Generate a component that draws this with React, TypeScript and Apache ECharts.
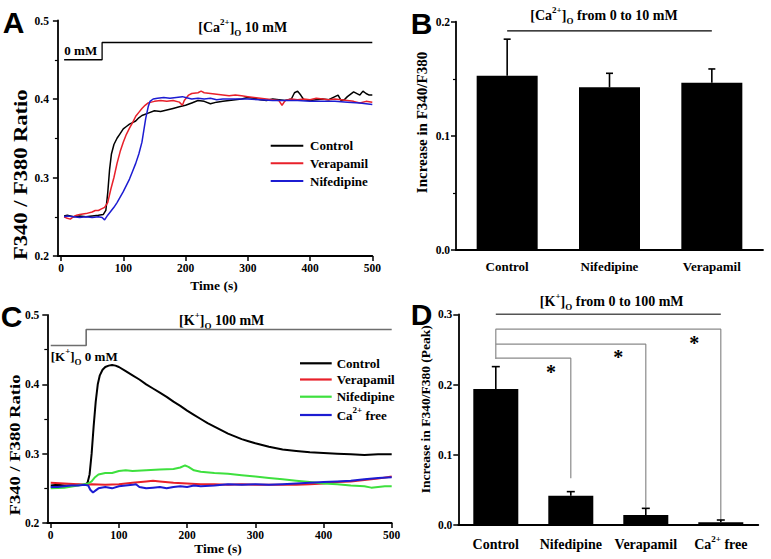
import React, { useEffect, useRef } from 'react';
import * as echarts from 'echarts';

const FONT = '"Liberation Serif", "Times New Roman", serif';
const SANS = '"Liberation Sans", Arial, sans-serif';

// ---------- Panel A data (time s, F340/F380) ----------
const timeTicks = [0, 100, 200, 300, 400, 500];
const aControl = [[5,0.251],[10,0.252],[20,0.250],[30,0.251],[40,0.250],[50,0.251],[60,0.252],[68,0.253],[72,0.258],[75,0.28],[78,0.31],[81,0.33],[85,0.342],[90,0.35],[95,0.356],[100,0.362],[105,0.365],[110,0.368],[115,0.37],[120,0.372],[125,0.376],[130,0.379],[140,0.382],[150,0.385],[160,0.384],[170,0.386],[180,0.388],[190,0.39],[200,0.392],[210,0.395],[220,0.398],[230,0.397],[240,0.394],[250,0.396],[260,0.397],[270,0.398],[280,0.399],[290,0.4],[300,0.402],[310,0.401],[320,0.399],[330,0.398],[340,0.4],[350,0.399],[360,0.398],[370,0.4],[375,0.408],[380,0.41],[385,0.405],[390,0.399],[400,0.398],[410,0.399],[420,0.4],[430,0.399],[440,0.403],[445,0.405],[450,0.398],[455,0.399],[460,0.403],[470,0.409],[480,0.405],[485,0.41],[490,0.407],[495,0.405],[500,0.405]];
const aVerapamil = [[5,0.25],[10,0.248],[15,0.247],[20,0.25],[25,0.252],[30,0.253],[40,0.254],[50,0.256],[55,0.258],[60,0.258],[65,0.26],[70,0.262],[75,0.268],[80,0.285],[85,0.3],[90,0.318],[95,0.333],[100,0.345],[105,0.355],[110,0.363],[115,0.37],[120,0.378],[125,0.383],[130,0.388],[135,0.392],[140,0.395],[145,0.396],[150,0.397],[160,0.398],[170,0.397],[180,0.398],[190,0.396],[195,0.392],[198,0.398],[205,0.405],[210,0.407],[220,0.408],[225,0.41],[230,0.408],[240,0.407],[250,0.406],[260,0.405],[270,0.404],[280,0.405],[290,0.404],[300,0.403],[310,0.402],[320,0.401],[330,0.4],[340,0.399],[350,0.398],[355,0.392],[360,0.398],[370,0.4],[380,0.399],[390,0.4],[400,0.399],[410,0.401],[420,0.4],[430,0.399],[440,0.4],[450,0.399],[460,0.398],[470,0.397],[480,0.395],[490,0.397],[500,0.396]];
const aNifedipine = [[5,0.25],[10,0.251],[20,0.25],[30,0.249],[40,0.25],[50,0.249],[60,0.25],[66,0.249],[70,0.246],[75,0.252],[80,0.257],[85,0.262],[90,0.268],[95,0.275],[100,0.282],[105,0.29],[110,0.298],[115,0.308],[120,0.318],[125,0.33],[130,0.345],[133,0.36],[136,0.375],[140,0.39],[143,0.397],[148,0.4],[155,0.401],[165,0.402],[175,0.401],[185,0.402],[195,0.403],[200,0.402],[210,0.4],[220,0.401],[230,0.4],[240,0.401],[250,0.399],[260,0.4],[280,0.4],[300,0.4],[320,0.399],[340,0.398],[360,0.398],[380,0.398],[400,0.397],[420,0.397],[440,0.397],[460,0.396],[480,0.395],[500,0.393]];
const aStep = [[5,0.45],[66,0.45],[66,0.472],[500,0.472]];

// ---------- Panel B data ----------
const catsB = ['Control', 'Nifedipine', 'Verapamil'];
const meanB = [0.1527, 0.1425, 0.1466];
const errB = [0.032, 0.0123, 0.012];
const lineB = [[0, 0.192], [2, 0.192]];

// ---------- Panel C data ----------
const cControl = [[0,0.254],[10,0.255],[20,0.254],[30,0.254],[40,0.255],[50,0.255],[54,0.258],[57,0.27],[60,0.3],[63,0.34],[66,0.375],[69,0.4],[72,0.413],[76,0.421],[80,0.425],[85,0.427],[90,0.428],[95,0.427],[100,0.425],[110,0.419],[120,0.413],[130,0.407],[140,0.4],[150,0.394],[160,0.388],[170,0.382],[180,0.375],[190,0.369],[200,0.362],[210,0.356],[220,0.35],[230,0.344],[240,0.339],[250,0.334],[260,0.329],[270,0.325],[280,0.321],[290,0.318],[300,0.315],[320,0.31],[340,0.306],[360,0.304],[380,0.302],[400,0.301],[420,0.3],[440,0.299],[460,0.298],[480,0.299],[500,0.299]];
const cVerapamil = [[0,0.258],[20,0.257],[40,0.256],[50,0.255],[60,0.256],[80,0.255],[100,0.256],[120,0.258],[140,0.26],[150,0.261],[160,0.26],[180,0.258],[200,0.257],[220,0.256],[240,0.256],[260,0.255],[280,0.256],[300,0.255],[320,0.255],[340,0.255],[360,0.255],[380,0.256],[400,0.257],[420,0.259],[440,0.26],[460,0.262],[480,0.264],[500,0.267]];
const cNifedipine = [[0,0.25],[20,0.251],[40,0.254],[50,0.256],[55,0.257],[60,0.26],[65,0.266],[70,0.27],[75,0.271],[80,0.272],[90,0.272],[100,0.275],[110,0.276],[120,0.275],[140,0.276],[160,0.277],[180,0.278],[190,0.28],[197,0.283],[202,0.281],[210,0.276],[220,0.274],[240,0.272],[260,0.271],[280,0.269],[300,0.267],[320,0.265],[340,0.263],[360,0.261],[380,0.259],[400,0.257],[420,0.256],[440,0.254],[460,0.253],[470,0.251],[480,0.252],[490,0.253],[500,0.253]];
const cCaFree = [[0,0.252],[10,0.252],[20,0.253],[30,0.254],[40,0.254],[50,0.255],[55,0.254],[58,0.248],[62,0.244],[66,0.247],[70,0.25],[80,0.252],[90,0.25],[100,0.253],[110,0.254],[120,0.255],[125,0.256],[130,0.252],[140,0.25],[150,0.251],[160,0.252],[170,0.25],[180,0.252],[190,0.253],[200,0.252],[210,0.254],[220,0.253],[240,0.254],[260,0.256],[280,0.255],[300,0.256],[320,0.255],[340,0.256],[360,0.257],[380,0.258],[400,0.259],[420,0.26],[440,0.261],[460,0.263],[480,0.265],[500,0.266]];
const cStep = [[0,0.456],[52,0.456],[52,0.479],[500,0.479]];

// ---------- Panel D data ----------
const catsD = ['Control', 'Nifedipine', 'Verapamil', 'Ca2+ free'];
const meanD = [0.1937, 0.0418, 0.0142, 0.0038];
const errD = [0.0318, 0.0057, 0.0095, 0.0033];
const lineD = [[0, 0.3], [3, 0.3]];
const bracket1 = [[0, 0.2365], [0, 0.2788], [3, 0.2788], [3, 0.0047]];
const bracket2 = [[0, 0.2574], [2, 0.2574], [2, 0.0246]];
const bracket3 = [[0, 0.2375], [1, 0.2375], [1, 0.0665]];

const RED = '#e8202a';
const BLUE = '#1c1cd2';
const GREEN = '#3ee03e';

const richBase = (size: number) => ({
  n: { fontSize: size, fontWeight: 'bold', fontFamily: FONT, lineHeight: 20, color: '#000', verticalAlign: 'middle' },
  sup: { fontSize: 9, fontWeight: 'bold', fontFamily: FONT, lineHeight: 9, color: '#000', verticalAlign: 'top' },
  sub: { fontSize: 9, fontWeight: 'bold', fontFamily: FONT, lineHeight: 9, color: '#000', verticalAlign: 'bottom' },
});

function txt(text: string, x: number, y: number, size: number, align = 'left', extra: any = {}) {
  return {
    type: 'text', x, y, silent: true,
    style: {
      text, fill: '#000', fontSize: size, fontWeight: 'bold', fontFamily: FONT,
      align, textAlign: align, verticalAlign: 'middle', textVerticalAlign: 'middle', ...extra,
    },
  };
}
function rich(text: string, x: number, y: number, size: number, align = 'center') {
  return {
    type: 'text', x, y, silent: true,
    style: {
      text, rich: richBase(size), fill: '#000', fontSize: size, fontWeight: 'bold', fontFamily: FONT,
      align, textAlign: align, verticalAlign: 'middle', textVerticalAlign: 'middle',
    },
  };
}
function vlabel(text: string, x: number, y: number, size: number, sx = 1) {
  return {
    type: 'text', x, y, rotation: Math.PI / 2, scaleX: sx, silent: true,
    style: {
      text, fill: '#000', fontSize: size, fontWeight: 'bold', fontFamily: FONT,
      align: 'center', textAlign: 'center', verticalAlign: 'middle', textVerticalAlign: 'middle',
    },
  };
}
function seg(x1: number, y1: number, x2: number, y2: number, color: string, w = 2) {
  return { type: 'line', silent: true, shape: { x1, y1, x2, y2 }, style: { stroke: color, lineWidth: w } };
}

const axisLineStyle = { show: true, onZero: false, lineStyle: { color: '#000', width: 1.8 } };
const tickStyle = { show: true, length: 5, lineStyle: { color: '#000', width: 1.5 } };
const labelStyle = (size: number, margin: number) => ({
  color: '#000', fontFamily: FONT, fontWeight: 'bold', fontSize: size, margin,
});

function errSeries(xi: number, yi: number, cats: string[], means: number[], errs: number[], cap: number) {
  return {
    type: 'custom', xAxisIndex: xi, yAxisIndex: yi, z: 5, silent: true,
    data: cats.map((_, i) => [i, means[i], errs[i]]),
    renderItem: (params: any, api: any) => {
      const x = api.value(0);
      const m = api.value(1);
      const e = api.value(2);
      const b = api.coord([x, m]);
      const t = api.coord([x, m + e]);
      return {
        type: 'group',
        children: [
          { type: 'line', shape: { x1: b[0], y1: b[1], x2: t[0], y2: t[1] }, style: { stroke: '#000', lineWidth: 1.6 } },
          { type: 'line', shape: { x1: t[0] - cap, y1: t[1], x2: t[0] + cap, y2: t[1] }, style: { stroke: '#000', lineWidth: 1.6 } },
        ],
      };
    },
  };
}

function lineSeries(xi: number, data: number[][], color: string, w: number, name?: string) {
  return {
    type: 'line', name, xAxisIndex: xi, yAxisIndex: xi, data, symbol: 'none', showSymbol: false,
    clip: false, silent: true, lineStyle: { color, width: w }, itemStyle: { color },
  };
}

export default function App() {
  const ref = useRef<HTMLDivElement>(null);
  useEffect(() => {
    if (!ref.current) return;
    const chart = echarts.init(ref.current, null, { renderer: 'svg' });
    const catFmt = (v: string) => (v === 'Ca2+ free' ? '{n|Ca}{sup|2+}{n| free}' : '{n|' + v + '}');
    const option: any = {
      animation: false,
      backgroundColor: '#fff',
      grid: [
        { left: 57.9, top: 20.5, width: 314.4, height: 235.5 },
        { left: 456, top: 21.7, width: 307, height: 228.3 },
        { left: 47.3, top: 315, width: 344.4, height: 208 },
        { left: 458.3, top: 314.3, width: 300, height: 210.7 },
      ],
      xAxis: [
        {
          gridIndex: 0, type: 'value', min: -5, max: 500,
          axisLine: axisLineStyle, axisTick: { ...tickStyle, customValues: timeTicks },
          axisLabel: { ...labelStyle(11.5, 6), customValues: timeTicks }, splitLine: { show: false },
        },
        {
          gridIndex: 1, type: 'category', data: catsB,
          axisLine: axisLineStyle, axisTick: { show: false },
          axisLabel: { ...labelStyle(13, 10), interval: 0 }, splitLine: { show: false },
        },
        {
          gridIndex: 2, type: 'value', min: -5, max: 500,
          axisLine: axisLineStyle, axisTick: { ...tickStyle, customValues: timeTicks },
          axisLabel: { ...labelStyle(11.5, 6), customValues: timeTicks }, splitLine: { show: false },
        },
        {
          gridIndex: 3, type: 'category', data: catsD,
          axisLine: axisLineStyle, axisTick: { show: false },
          axisLabel: { ...labelStyle(14, 9), interval: 0, hideOverlap: false, formatter: catFmt, rich: richBase(14) }, splitLine: { show: false },
        },
      ],
      yAxis: [
        {
          gridIndex: 0, type: 'value', min: 0.2, max: 0.5, interval: 0.1,
          axisLine: axisLineStyle, axisTick: tickStyle,
          minorTick: { show: true, splitNumber: 2, length: 3, lineStyle: { color: '#000', width: 1.2 } },
          axisLabel: { ...labelStyle(11.5, 9), formatter: (v: number) => v.toFixed(1) }, splitLine: { show: false },
        },
        {
          gridIndex: 1, type: 'value', min: 0, max: 0.2, interval: 0.1,
          axisLine: axisLineStyle, axisTick: tickStyle,
          minorTick: { show: true, splitNumber: 2, length: 3, lineStyle: { color: '#000', width: 1.2 } },
          axisLabel: { ...labelStyle(11.5, 6), formatter: (v: number) => v.toFixed(1) }, splitLine: { show: false },
        },
        {
          gridIndex: 2, type: 'value', min: 0.2, max: 0.5, interval: 0.1,
          axisLine: axisLineStyle, axisTick: tickStyle,
          minorTick: { show: true, splitNumber: 2, length: 3, lineStyle: { color: '#000', width: 1.2 } },
          axisLabel: { ...labelStyle(11.5, 8), formatter: (v: number) => v.toFixed(1) }, splitLine: { show: false },
        },
        {
          gridIndex: 3, type: 'value', min: 0, max: 0.3, interval: 0.1,
          axisLine: axisLineStyle, axisTick: tickStyle,
          axisLabel: { ...labelStyle(11.5, 6), formatter: (v: number) => v.toFixed(1) }, splitLine: { show: false },
        },
      ],
      series: [
        // Panel A
        lineSeries(0, aStep, '#000', 1.3),
        lineSeries(0, aControl, '#000', 1.5, 'Control'),
        lineSeries(0, aVerapamil, RED, 1.5, 'Verapamil'),
        lineSeries(0, aNifedipine, BLUE, 1.5, 'Nifedipine'),
        // Panel B
        { type: 'bar', xAxisIndex: 1, yAxisIndex: 1, data: meanB, barWidth: 61, itemStyle: { color: '#000' }, silent: true },
        errSeries(1, 1, catsB, meanB, errB, 3.5),
        lineSeries(1, lineB, '#000', 1.3),
        // Panel C
        lineSeries(2, cStep, '#6e6e6e', 1.6),
        lineSeries(2, cControl, '#000', 2, 'Control'),
        lineSeries(2, cVerapamil, RED, 2, 'Verapamil'),
        lineSeries(2, cNifedipine, GREEN, 2, 'Nifedipine'),
        lineSeries(2, cCaFree, BLUE, 2, 'Ca2+ free'),
        // Panel D
        { type: 'bar', xAxisIndex: 3, yAxisIndex: 3, data: meanD, barWidth: 45, itemStyle: { color: '#000' }, silent: true },
        errSeries(3, 3, catsD, meanD, errD, 4),
        lineSeries(3, lineD, '#555', 1.5),
        lineSeries(3, bracket1, '#8a8a8a', 1.2),
        lineSeries(3, bracket2, '#8a8a8a', 1.2),
        lineSeries(3, bracket3, '#8a8a8a', 1.2),
      ],
      graphic: [
        // panel letters
        { type: 'text', x: 13.5, y: 22.5, style: { text: 'A', fill: '#000', fontSize: 30, fontWeight: 'bold', fontFamily: SANS, align: 'center', verticalAlign: 'middle' } },
        { type: 'text', x: 421.7, y: 23.3, style: { text: 'B', fill: '#000', fontSize: 30, fontWeight: 'bold', fontFamily: SANS, align: 'center', verticalAlign: 'middle' } },
        { type: 'text', x: 11.7, y: 316, style: { text: 'C', fill: '#000', fontSize: 30, fontWeight: 'bold', fontFamily: SANS, align: 'center', verticalAlign: 'middle' } },
        { type: 'text', x: 421.7, y: 314, style: { text: 'D', fill: '#000', fontSize: 30, fontWeight: 'bold', fontFamily: SANS, align: 'center', verticalAlign: 'middle' } },
        // titles
        rich('{n|[Ca}{sup|2+}{n|]}{sub|O}{n| 10 mM}', 242.7, 27, 14),
        txt('0 mM', 64.3, 50.3, 13),
        rich('{n|[Ca}{sup|2+}{n|]}{sub|O}{n| from 0 to 10 mM}', 604, 15, 14),
        rich('{n|[K}{sup|+}{n|]}{sub|O}{n| 100 mM}', 221.7, 320, 14),
        rich('{n|[K}{sup|+}{n|]}{sub|O}{n| 0 mM}', 50.7, 356.5, 13, 'left'),
        rich('{n|[K}{sup|+}{n|]}{sub|O}{n| from 0 to 100 mM}', 611.7, 301.5, 14),
        // axis titles
        txt('Time (s)', 214, 285, 13.5, 'center'),
        txt('Time (s)', 218, 548, 13.5, 'center'),
        vlabel('F340 / F380 Ratio', 20.7, 174.7, 18, 1.25),
        vlabel('F340 / F380 Ratio', 15.3, 445, 15.5, 1.2),
        vlabel('Increase in F340/F380', 421.7, 122.5, 15),
        vlabel('Increase in F340/F380 (Peak)', 425, 409.2, 13.5),
        // legend A
        seg(270.7, 145.7, 303.3, 145.7, '#000'),
        seg(270.7, 163.3, 303.3, 163.3, RED),
        seg(270.7, 181, 303.3, 181, BLUE),
        txt('Control', 310, 145.7, 13),
        txt('Verapamil', 310, 163.3, 13),
        txt('Nifedipine', 310, 181, 13),
        // legend C
        seg(300, 363.3, 331.7, 363.3, '#000', 2.2),
        seg(300, 379.5, 331.7, 379.5, RED, 2.2),
        seg(300, 396.7, 331.7, 396.7, GREEN, 2.2),
        seg(300, 415, 331.7, 415, BLUE, 2.2),
        txt('Control', 336.7, 363.3, 13),
        txt('Verapamil', 336.7, 379.5, 13),
        txt('Nifedipine', 336.7, 396.7, 13),
        rich('{n|Ca}{sup|2+}{n| free}', 336.7, 415, 13, 'left'),
        // significance stars
        txt('*', 551, 371.5, 20, 'center'),
        txt('*', 618.3, 356.5, 20, 'center'),
        txt('*', 694.3, 342.5, 20, 'center'),
      ],
    };
    chart.setOption(option);
    return () => chart.dispose();
  }, []);
  return <div ref={ref} style={{ position: 'absolute', left: 0, top: 0, width: 771, height: 559, background: '#fff' }} />;
}
